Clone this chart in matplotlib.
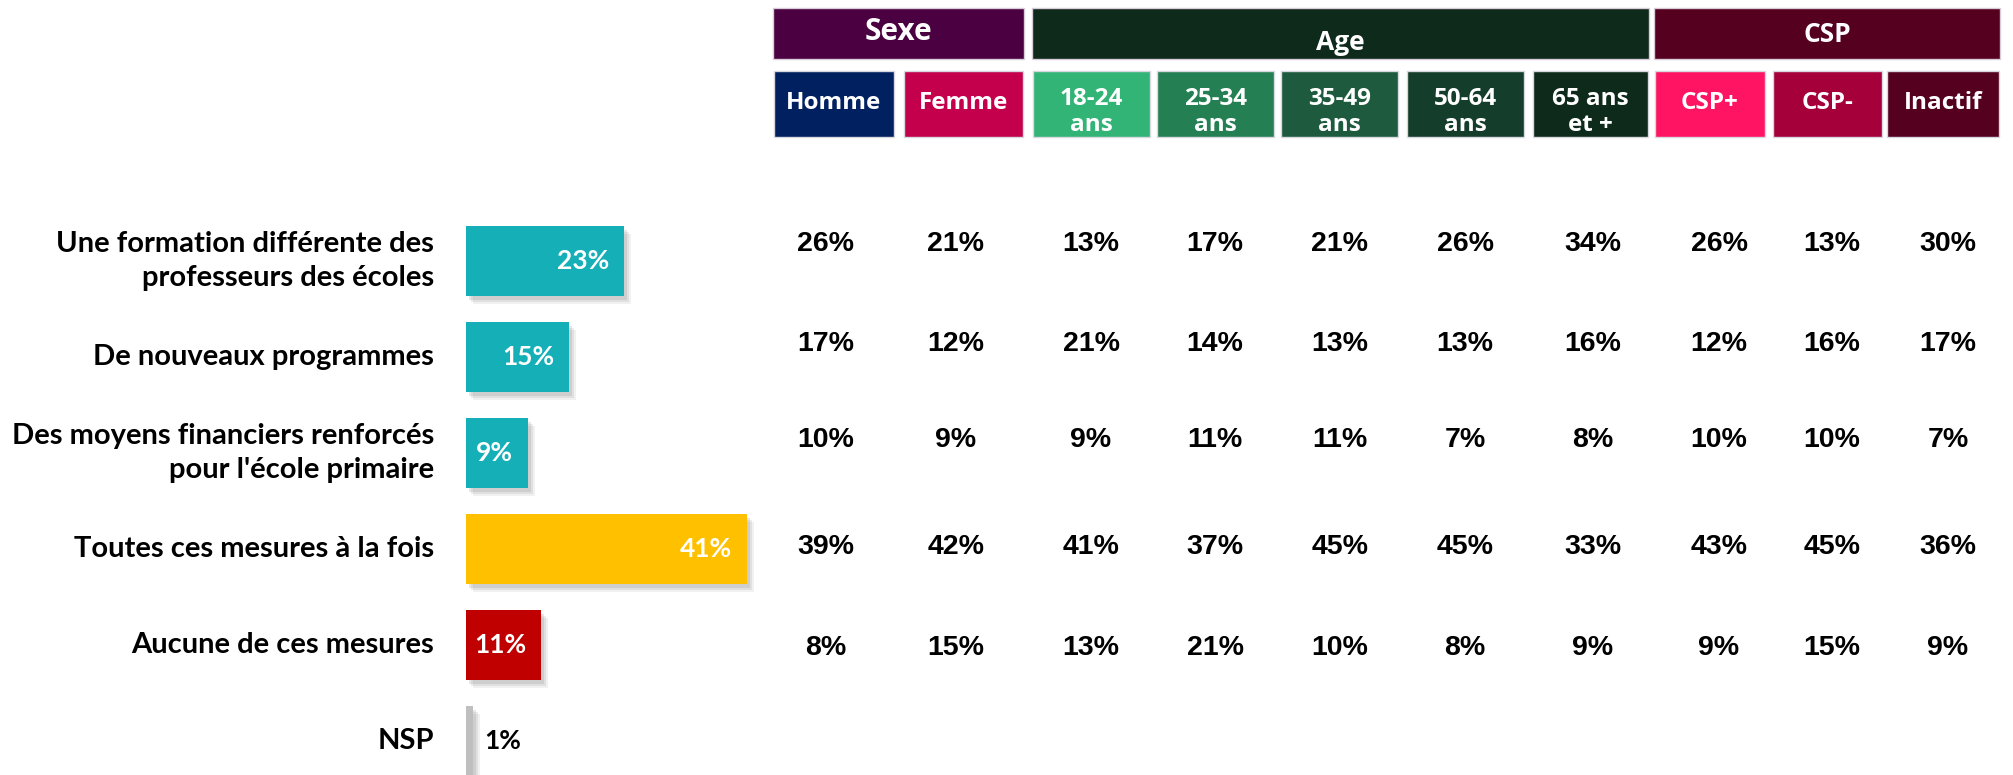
import matplotlib
matplotlib.use("Agg")
import matplotlib.pyplot as plt
from matplotlib.patches import Rectangle
from matplotlib.transforms import ScaledTranslation

# ---------------- data ----------------
categories = ["Une formation différente des\nprofesseurs des écoles",
              "De nouveaux programmes",
              "Des moyens financiers renforcés\npour l'école primaire",
              "Toutes ces mesures à la fois",
              "Aucune de ces mesures",
              "NSP"]
totals = [23, 15, 9, 41, 11, 1]
bar_colors = ["#14AFB7", "#14AFB7", "#14AFB7", "#FFC000", "#C00000", "#BFBFBF"]

groups = ["Sexe", "Age", "CSP"]
group_span = [(0, 1), (2, 6), (7, 9)]          # first / last sub-column of each group
group_colors = ["#4B0042", "#0E2A1B", "#55001E"]

subgroups = ["Homme", "Femme", "18-24\nans", "25-34\nans", "35-49\nans",
             "50-64\nans", "65 ans\net +", "CSP+", "CSP-", "Inactif"]
sub_colors = ["#002060", "#C4004C", "#33B477", "#247F52", "#1E5B3E",
              "#153D2B", "#0E2A1B", "#FF1463", "#A6003A", "#55001E"]

row_formation = [26, 21, 13, 17, 21, 26, 34, 26, 13, 30]
row_programmes = [17, 12, 21, 14, 13, 13, 16, 12, 16, 17]
row_moyens = [10, 9, 9, 11, 11, 7, 8, 10, 10, 7]
row_toutes = [39, 42, 41, 37, 45, 45, 33, 43, 45, 36]
row_aucune = [8, 15, 13, 21, 10, 8, 9, 9, 15, 9]
table_rows = [row_formation, row_programmes, row_moyens, row_toutes, row_aucune]

# ---------------- layout (pixels) ----------------
W, H = 2013, 775
DPI = 100
sub_left = [774, 904, 1033, 1157, 1281, 1407, 1533, 1655, 1773, 1887]
sub_right = [894, 1023, 1150, 1274, 1398, 1524, 1648, 1765, 1882, 1999]
col_x = [826, 956, 1091, 1215, 1340, 1465, 1593, 1719, 1832, 1948]
row_y = [244, 344, 440, 547, 648]
grp_top, grp_bot = 8, 59
sub_top, sub_bot = 71, 137
grp_text_y = [32, 42, 34]
grp_text_size = [21.5, 19, 19]

fig = plt.figure(figsize=(W / DPI, H / DPI), dpi=DPI)
fig.patch.set_facecolor("white")

# layout axes in pixel coordinates (headers + table)
lay = fig.add_axes([0, 0, 1, 1])
lay.set_xlim(0, W)
lay.set_ylim(H, 0)
lay.axis("off")

hdr_font = dict(family=["Open Sans", "DejaVu Sans"], weight="bold", color="white")

for g, (a, b), c, ty, fs in zip(groups, group_span, group_colors, grp_text_y, grp_text_size):
    x0, x1 = sub_left[a] - 1, sub_right[b] + 1
    lay.add_patch(Rectangle((x0, grp_top), x1 - x0, grp_bot - grp_top,
                            facecolor=c, edgecolor="#D8CCD8", lw=1))
    lay.text((x0 + x1) / 2, ty, g, ha="center", va="center", fontsize=fs, **hdr_font)

for s, c, l, r in zip(subgroups, sub_colors, sub_left, sub_right):
    lay.add_patch(Rectangle((l, sub_top), r - l, sub_bot - sub_top,
                            facecolor=c, edgecolor="#D8D8E0", lw=1))
    ty = 112 if "\n" in s else 103
    lay.text((l + r) / 2, ty, s, ha="center", va="center", fontsize=17.5,
             linespacing=1.12, **hdr_font)

for vals, y in zip(table_rows, row_y):
    for v, x in zip(vals, col_x):
        lay.text(x, y, f"{v}%", ha="center", va="center", fontsize=20.5,
                 family=["Liberation Sans", "DejaVu Sans"], weight="bold", color="black")

# ---------------- bar chart ----------------
bar_x0 = 466          # px of 0 %
px_per_pct = 6.86
row_step = 96         # px between bars
first_center = 261
ax_top = first_center - row_step / 2
xmax = 45
ax = fig.add_axes([bar_x0 / W, 0, xmax * px_per_pct / W, (H - ax_top) / H])
ax.set_xlim(0, xmax)
ax.set_ylim(-0.5 + (H - ax_top) / row_step, -0.5)
ax.axis("off")
ax.patch.set_alpha(0)

ypos = list(range(len(categories)))
bh = 70 / row_step

# soft shadow
for k, a in zip([7, 5, 3], [0.10, 0.14, 0.18]):
    off = ax.transData + ScaledTranslation(k / DPI, -(k + 1) / DPI, fig.dpi_scale_trans)
    ax.barh(ypos, totals, height=bh, color="#7F7F7F", alpha=a, transform=off, zorder=1)
ax.barh(ypos, totals, height=bh, color=bar_colors, zorder=3)

lab_font = dict(family=["Lato", "DejaVu Sans"], weight="bold")
for i, (cat, v) in enumerate(zip(categories, totals)):
    lt = ax.transData + ScaledTranslation(-32 / DPI, 0, fig.dpi_scale_trans)
    ax.text(0, i, cat, transform=lt, ha="right", va="center", fontsize=21,
            linespacing=1.34, color="black", **lab_font)
    if v >= 5:
        vt = ax.transData + ScaledTranslation(-15 / DPI, 0, fig.dpi_scale_trans)
        ax.text(v, i, f"{v}%", transform=vt, ha="right", va="center", fontsize=19,
                color="white", zorder=5, **lab_font)
    else:
        vt = ax.transData + ScaledTranslation(11 / DPI, 0, fig.dpi_scale_trans)
        ax.text(v, i, f"{v}%", transform=vt, ha="left", va="center", fontsize=19,
                color="black", zorder=5, **lab_font)

fig.savefig("out.png", dpi=DPI, facecolor="white")
